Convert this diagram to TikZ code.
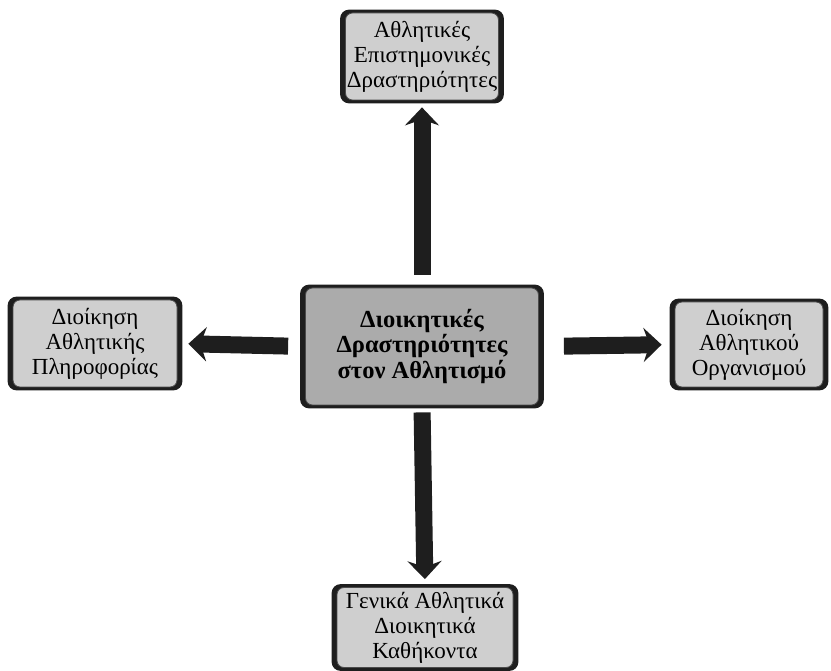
\documentclass[tikz,border=0pt]{standalone}
\usepackage{fontspec}
\setmainfont{Liberation Serif}
\usetikzlibrary{arrows.meta,calc,backgrounds}

\definecolor{boxgray}{HTML}{CFCFCF}
\definecolor{hubgray}{HTML}{ABABAB}
\definecolor{rim}{HTML}{1E1E1E}

\tikzset{
  topic/.style={draw=rim!80, line width=0.8pt, fill=boxgray, rounded corners=7pt,
    align=center, inner sep=1pt, font=\fontsize{23}{25}\selectfont, text=black},
  hub/.style={topic, fill=hubgray, font=\fontsize{24.5}{25.5}\selectfont\bfseries},
  flow/.style={draw=rim, line width=17pt,
    -{Stealth[length=18pt, width=34pt, inset=6pt]}}
}

\begin{document}
\begin{tikzpicture}[x=1pt, y=-1pt]
  \useasboundingbox (0,0) rectangle (831,671);

  % central activity and the four areas around it
  \node[hub, minimum width=233pt, minimum height=117pt] (c) at (422,346.5)
    {Διοικητικές\\Δραστηριότητες\\στον Αθλητισμό};
  \node[topic, minimum width=153pt, minimum height=87pt] (t) at (422,56.5)
    {Αθλητικές\\Επιστημονικές\\Δραστηριότητες};
  \node[topic, minimum width=164pt, minimum height=87pt] (l) at (95,343.5)
    {Διοίκηση\\Αθλητικής\\Πληροφορίας};
  \node[topic, minimum width=148pt, minimum height=85pt] (r) at (749,344.5)
    {Διοίκηση\\Αθλητικού\\Οργανισμού};
  \node[topic, minimum width=176pt, minimum height=80pt] (b) at (425,627.5)
    {Γενικά Αθλητικά\\Διοικητικά\\Καθήκοντα};

  % dark raised rim behind every box
  \begin{scope}[on background layer]
    \foreach \n in {c,t,l,r,b}
      \fill[rim, rounded corners=9pt]
        ($(\n.south west)+(-5pt,-3pt)$) rectangle ($(\n.north east)+(5pt,3pt)$);
  \end{scope}

  % block arrows from the centre outward
  \draw[flow, shorten <=13pt, shorten >=7pt] (c.north) -- (t.south);
  \draw[flow, shorten <=7pt, shorten >=8pt] (c.south) -- (b.north);
  \draw[flow, shorten <=17pt, shorten >=11pt] (c.west) -- (l.east);
  \draw[flow, shorten <=25pt, shorten >=13pt] (c.east) -- (r.west);
\end{tikzpicture}
\end{document}
